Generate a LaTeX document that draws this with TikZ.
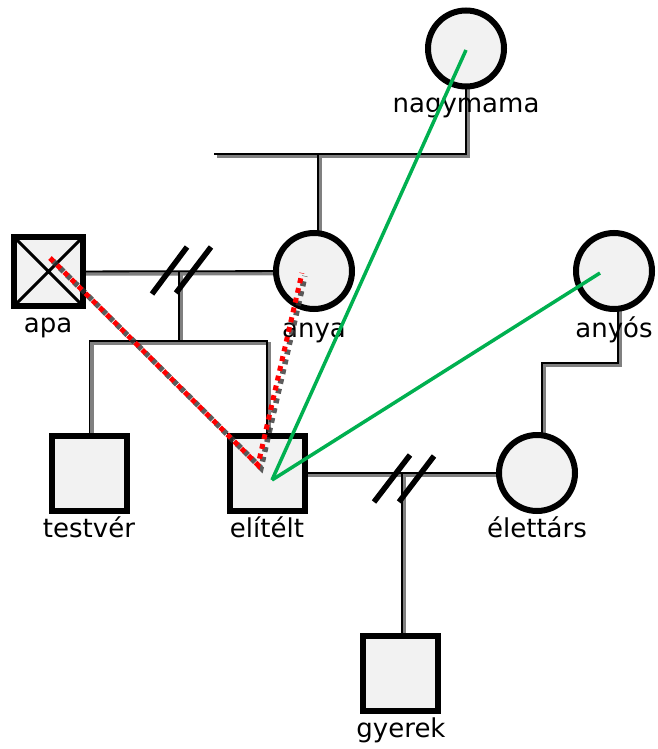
\documentclass[tikz,border=0pt]{standalone}
\usepackage{fontspec}
\setmainfont{DejaVu Sans}
\usetikzlibrary{calc}
\pgfdeclarelayer{background}
\pgfsetlayers{background,main}
\definecolor{shapefill}{HTML}{F2F2F2}
\definecolor{shadowgray}{HTML}{808080}
\definecolor{kingreen}{HTML}{00B050}
\newcommand\famline[1]{\draw[shadowline] #1; \draw[mainline] #1;}
\begin{document}
\begin{tikzpicture}[x=1pt,y=-1pt,
  person/.style={draw=black, line width=6pt, fill=shapefill, inner sep=0pt, outer sep=0pt},
  sq/.style={person, rectangle, minimum size=75pt},
  ci/.style={person, circle, minimum size=76pt},
  lbl/.style={font=\fontsize{26}{30}\selectfont, anchor=base, inner sep=0pt},
  mainline/.style={draw=black, line width=1.8pt},
  shadowline/.style={draw=shadowgray, line width=3.5pt, transform canvas={shift={(2.5pt,-2.5pt)}}},
  slash/.style={draw=black, line width=5.5pt},
  kin/.style={draw=kingreen, line width=3.5pt},
  conflict/.style={draw=red, line width=5pt, dash pattern=on 5pt off 5pt},
  conflictshadow/.style={draw=black!80, line width=5.5pt, dash pattern=on 5pt off 5pt, opacity=0.8, transform canvas={shift={(3pt,-3pt)}}}
]
\useasboundingbox (0,0) rectangle (657,749);
% persons
\node[sq, minimum size=69pt] (apa) at (48.5,271.5) {};
\draw[line width=3pt] (apa.north west) -- (apa.south east) (apa.north east) -- (apa.south west);
\node[ci] (nagymama) at (466,48.5) {};
\node[ci] (anya) at (314,271) {};
\node[ci] (anyos) at (614,271) {};
\node[sq] (testver) at (89.5,473) {};
\node[sq] (elitelt) at (267,473) {};
\node[ci] (elettars) at (537,473) {};
\node[sq] (gyerek) at (400.5,673.5) {};
% junctions
\coordinate (gp) at (318,154);
\coordinate (gl) at (214,154);
\coordinate (m1) at (179,272);
\coordinate (c1) at (179,341);
\coordinate (m2) at (402,473);
\coordinate (ab) at (618,363);
\coordinate (eb) at (542,363);
\begin{pgfonlayer}{background}
\famline{(nagymama.center) |- (gl)}
\famline{(gp) -- (gp |- anya.center)}
\famline{(apa.center) -- (anya.center)}
\famline{(m1) -- (c1)}
\famline{(testver.center) |- (c1) -| (elitelt.center)}
\famline{(elitelt.center) -- (elettars.center)}
\famline{(m2) -- (m2 |- gyerek.center)}
\famline{(ab |- anyos.center) -- (ab) -- (eb) -- (eb |- elettars.center)}
\end{pgfonlayer}
% divorce slashes
\draw[slash] (152,294) -- (187,247) (176,293) -- (211,247);
\draw[slash] (374,502) -- (410,455) (399,502) -- (434,456);
% labels
\node[lbl] (lapa) at (48,332) {apa};
\node[lbl] (lanya) at (314,337) {anya};
\node[lbl] (lnagymama) at (466,113) {nagymama};
\node[lbl] (lanyos) at (614,337) {anyós};
\node[lbl] (ltestver) at (89,537) {testvér};
\node[lbl] (lelitelt) at (267,537) {elítélt};
\node[lbl] (lelettars) at (537,537) {élettárs};
\node[lbl] (lgyerek) at (401,737) {gyerek};
% emotional relations
\coordinate (ge) at ($(elitelt.center)+(5,7)$);
\coordinate (gn) at ($(nagymama.center)+(0,1.5)$);
\coordinate (ga) at ($(anyos.center)+(-14,2)$);
\draw[kin] (ge) -- (gn);
\draw[kin] (ge) -- (ga);
\coordinate (ra) at ($(apa.center)+(1.5,-13.5)$);
\coordinate (re) at ($(elitelt.center)+(-9,-8)$);
\coordinate (rn) at ($(anya.center)+(-12,2)$);
\draw[conflictshadow] (ra) -- (re) -- (rn);
\draw[conflict] (ra) -- (re) -- (rn);
\end{tikzpicture}
\end{document}
